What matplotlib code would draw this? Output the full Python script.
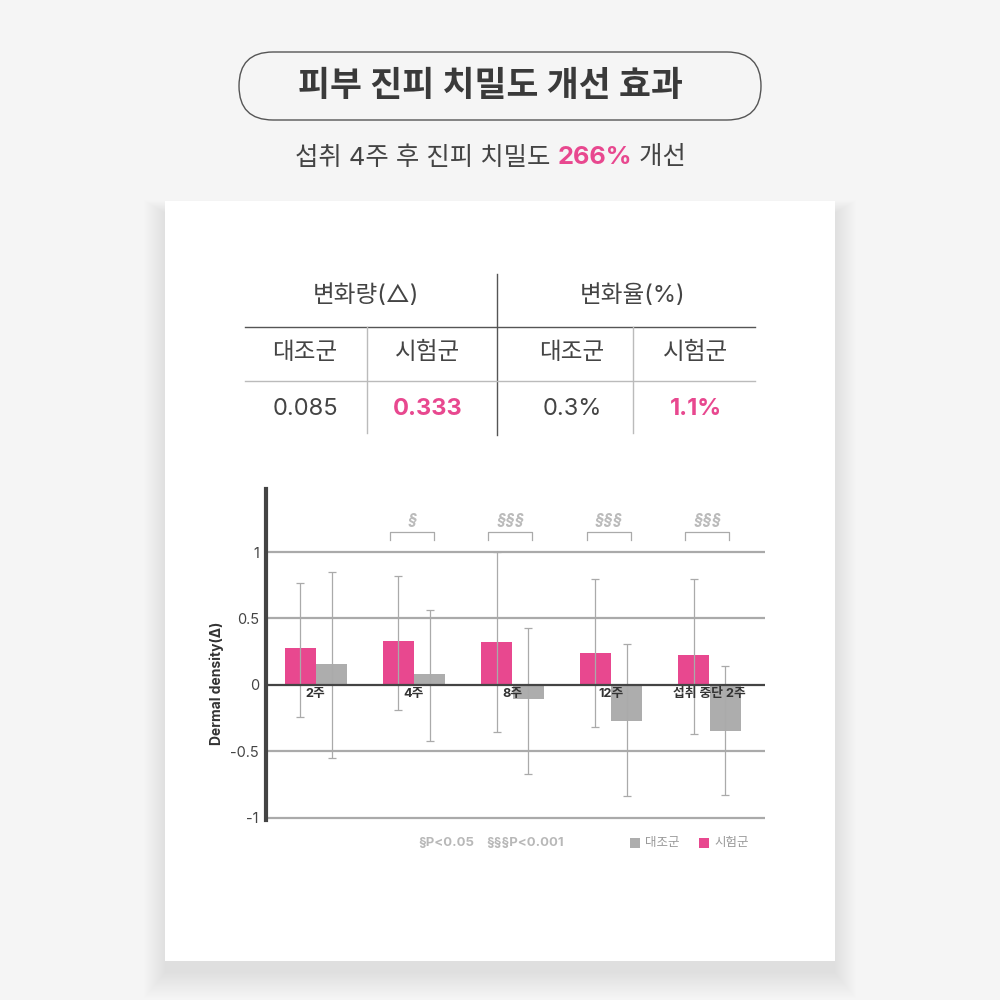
import numpy as np
import matplotlib
matplotlib.use("Agg")
import matplotlib.pyplot as plt
from matplotlib.patches import FancyBboxPatch, Rectangle

plt.rcParams['font.family'] = ['Inter', 'Noto Sans CJK KR', 'DejaVu Sans']

# 데이터
categories = ['2주', '4주', '8주', '12주', '섭취 중단 2주']
test_mean = [0.28, 0.33, 0.32, 0.24, 0.225]
test_low = [-0.245, -0.19, -0.355, -0.32, -0.37]
test_high = [0.77, 0.82, 1.0, 0.80, 0.80]
ctrl_mean = [0.155, 0.08, -0.11, -0.27, -0.35]
ctrl_low = [-0.55, -0.42, -0.67, -0.84, -0.83]
ctrl_high = [0.85, 0.565, 0.43, 0.305, 0.14]
sig_marks = ['', '§', '§§§', '§§§', '§§§']

table_head = ['변화량(△)', '변화율(%)']
table_groups = ['대조군', '시험군', '대조군', '시험군']
table_values = ['0.085', '0.333', '0.3%', '1.1%']

PINK = '#e8488f'
GRAY = '#adadad'
DARK = '#444444'

fig = plt.figure(figsize=(10, 10), dpi=100)
fig.patch.set_facecolor('#f5f5f5')

# 배경용 축 (픽셀 좌표)
bg = fig.add_axes([0, 0, 1, 1])
bg.set_xlim(0, 1000)
bg.set_ylim(1000, 0)
bg.axis('off')

# 카드 그림자
for k in range(22):
    bg.add_patch(Rectangle((165 - k, 201 + 12 - k * 0.6), 670 + 2 * k, 760 + 1.8 * k,
                           facecolor='#000000', alpha=0.0045, lw=0))
bg.add_patch(Rectangle((165, 201), 670, 760, facecolor='white', lw=0))

# 제목 박스
bg.add_patch(FancyBboxPatch((239, 52), 522, 68,
                            boxstyle='round,pad=0,rounding_size=34',
                            facecolor='#f5f5f5', edgecolor='#555555', lw=1.0))
bg.text(491, 87, '피부 진피 치밀도 개선 효과', ha='center', va='center',
        fontsize=25, fontweight='bold', color='#3a3a3a')

# 부제: 조각을 이어 붙여서 가운데 정렬
fig.canvas.draw()
renderer = fig.canvas.get_renderer()
parts = [('섭취 4주 후 진피 치밀도 ', 'normal', '#444444'),
         ('266%', 'bold', PINK),
         (' 개선', 'normal', '#444444')]
texts = []
total = 0
for s, wgt, col in parts:
    t = bg.text(0, 158, s, ha='left', va='center', fontsize=18.3,
                fontweight=wgt, color=col)
    wpx = t.get_window_extent(renderer).width
    texts.append((t, wpx))
    total += wpx
xpos = 490.5 - total / 2
for t, wpx in texts:
    t.set_x(xpos)
    xpos += wpx

# 표
bg.plot([497, 497], [274, 435], color='#555555', lw=1.0)
bg.plot([245, 755], [326.5, 326.5], color='#555555', lw=1.0)
bg.plot([245, 755], [380.5, 380.5], color='#bbbbbb', lw=1.0)
bg.plot([367, 367], [327, 433], color='#bbbbbb', lw=1.0)
bg.plot([633, 633], [327, 433], color='#bbbbbb', lw=1.0)

bg.text(366, 296, table_head[0], ha='center', va='center', fontsize=17, color=DARK)
bg.text(633, 296, table_head[1], ha='center', va='center', fontsize=17, color=DARK)
col_x = [305, 428, 572, 696]
for i, (g, v) in enumerate(zip(table_groups, table_values)):
    bg.text(col_x[i], 353, g, ha='center', va='center', fontsize=17, color=DARK)
    if i % 2 == 1:
        bg.text(col_x[i], 409, v, ha='center', va='center', fontsize=17,
                fontweight='bold', color=PINK)
    else:
        bg.text(col_x[i], 409, v, ha='center', va='center', fontsize=17, color=DARK)

# 막대 그래프 축
left, right = 265.7, 765
top_px, bot_px = 489, 820.2
ax = fig.add_axes([left / 1000, 1 - bot_px / 1000, (right - left) / 1000, (bot_px - top_px) / 1000])
ax.set_facecolor('none')
ax.set_zorder(2)

x = np.arange(len(categories))
w = 0.315
err_t = [np.array(test_mean) - np.array(test_low), np.array(test_high) - np.array(test_mean)]
err_c = [np.array(ctrl_mean) - np.array(ctrl_low), np.array(ctrl_high) - np.array(ctrl_mean)]

for yv in [-1, -0.5, 0.5, 1]:
    ax.axhline(yv, color='#aaaaaa', lw=1.6, zorder=1)

ax.bar(x - w / 2, test_mean, w, color=PINK, zorder=2)
ax.bar(x + w / 2 + 0.005, ctrl_mean, w, color=GRAY, zorder=2)
ax.errorbar(x - w / 2, test_mean, yerr=err_t, fmt='none', ecolor='#aaaaaa',
            elinewidth=0.9, capsize=3.2, capthick=0.9, zorder=3)
ax.errorbar(x + w / 2 + 0.005, ctrl_mean, yerr=err_c, fmt='none', ecolor='#aaaaaa',
            elinewidth=0.9, capsize=3.2, capthick=0.9, zorder=3)
ax.axhline(0, color=DARK, lw=1.6, zorder=4)

for i, c in enumerate(categories):
    ax.text(x[i], -0.066, c, ha='center', va='center', fontsize=9.2,
            fontweight='bold', color='#333333', zorder=5)

# 유의성 표시
for i, s in enumerate(sig_marks):
    if not s:
        continue
    cx = x[i] - 0.02
    ax.plot([cx - 0.223, cx - 0.223, cx + 0.223, cx + 0.223],
            [1.088, 1.153, 1.153, 1.088], color='#aaaaaa', lw=0.9, zorder=3)
    ax.text(cx, 1.235, s, ha='center', va='center', fontsize=11.5,
            fontweight='bold', color='#bbbbbb', fontstyle='italic')

ax.set_xlim(-0.506, 4.566)
ax.set_ylim(-1.02, 1.475)
ax.set_yticks([-1, -0.5, 0, 0.5, 1])
ax.set_yticklabels(['-1', '-0.5', '0', '0.5', '1'])
ax.set_xticks([])
ax.tick_params(axis='y', length=0, pad=5, labelsize=10.5, labelcolor=DARK)
for sp in ['top', 'right', 'bottom']:
    ax.spines[sp].set_visible(False)
ax.spines['left'].set_color(DARK)
ax.spines['left'].set_linewidth(3)

fig.text(217 / 1000, 1 - 683 / 1000, 'Dermal density(Δ)', rotation=90,
         ha='center', va='center', fontsize=10, fontweight='bold', color='#333333')

# 범례
bg.text(418, 843, '§P<0.05', ha='left', va='center', fontsize=9.5,
        fontweight='bold', color='#b8b8b8')
bg.text(486, 843, '§§§P<0.001', ha='left', va='center', fontsize=9.5,
        fontweight='bold', color='#b8b8b8')
bg.add_patch(Rectangle((630, 838), 10, 10, facecolor=GRAY, lw=0))
bg.text(645, 843, '대조군', ha='left', va='center', fontsize=9, color='#999999')
bg.add_patch(Rectangle((699, 838), 10, 10, facecolor=PINK, lw=0))
bg.text(714, 843, '시험군', ha='left', va='center', fontsize=9, color='#999999')

fig.savefig('out.png', dpi=100, facecolor=fig.get_facecolor())
